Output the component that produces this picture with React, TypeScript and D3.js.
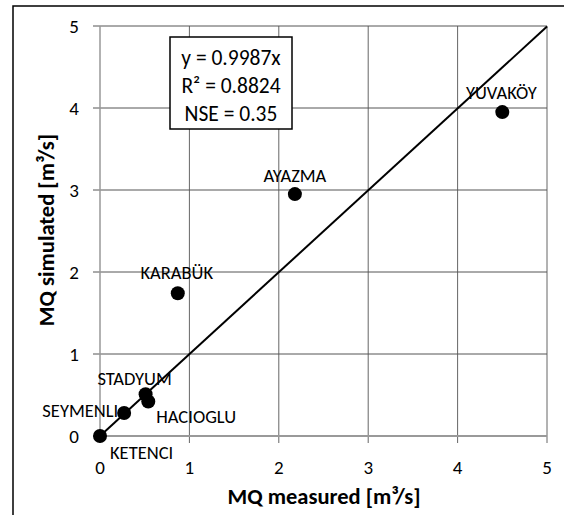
import React from 'react';
import * as d3 from 'd3';

const stations = ['KETENCI', 'SEYMENLI', 'STADYUM', 'HACIOGLU', 'KARABÜK', 'AYAZMA', 'YUVAKÖY'];
const measured = [0, 0.27, 0.51, 0.54, 0.87, 2.18, 4.5];
const simulated = [0, 0.28, 0.51, 0.42, 1.74, 2.95, 3.95];
const ticks = [0, 1, 2, 3, 4, 5];
const slope = 0.9987;
const statLines = ['y = 0.9987x', 'R² = 0.8824', 'NSE = 0.35'];

// label placement relative to each point: [dx, dy, anchor]
const labelPos: [number, number, string][] = [
  [10, 17, 'start'],
  [-6, -3, 'end'],
  [-11, -16, 'middle'],
  [8, 15, 'start'],
  [-1, -21, 'middle'],
  [0, -19, 'middle'],
  [-1, -20, 'middle'],
];

const W = 564;
const H = 515;
const font = "Carlito, Calibri, 'Liberation Sans', sans-serif";

const App = () => {
  const x = d3.scaleLinear().domain([0, 5]).range([100, 547]);
  const y = d3.scaleLinear().domain([0, 5]).range([436, 26]);
  const line = d3.line<number>().x(d => x(d)).y(d => y(d * slope));

  return (
    <svg width={W} height={H} style={{ position: 'absolute', left: 0, top: 0, background: '#fff' }}>
      <rect x={13} y={6} width={W} height={H} fill="none" stroke="#000" strokeWidth={1.5} />

      {ticks.slice(1).map(t => (
        <line key={'gx' + t} x1={x(t)} x2={x(t)} y1={y(5)} y2={y(0) + 7} stroke="#666" strokeWidth={1} />
      ))}
      {ticks.slice(1).map(t => (
        <line key={'gy' + t} x1={x(0) - 7} x2={x(5)} y1={y(t)} y2={y(t)} stroke="#555" strokeWidth={1} />
      ))}
      <line x1={x(0)} x2={x(0)} y1={y(5)} y2={y(0) + 7} stroke="#999" strokeWidth={1.5} />
      <line x1={x(0) - 7} x2={x(5)} y1={y(0)} y2={y(0)} stroke="#999" strokeWidth={2} />

      {ticks.map(t => (
        <text key={'ty' + t} x={79} y={y(t)} dy="0.35em" textAnchor="end" fontFamily={font} fontSize={19}>{t}</text>
      ))}
      {ticks.map(t => (
        <text key={'tx' + t} x={x(t)} y={474} textAnchor="middle" fontFamily={font} fontSize={19}>{t}</text>
      ))}

      <path d={line([0, 5]) || ''} stroke="#000" strokeWidth={2} fill="none" />

      {measured.map((m, i) => (
        <circle key={'p' + i} cx={x(m)} cy={y(simulated[i])} r={7} fill="#000" />
      ))}
      {stations.map((s, i) => (
        <text key={'l' + i} x={x(measured[i]) + labelPos[i][0]} y={y(simulated[i]) + labelPos[i][1]}
          dy="0.35em" textAnchor={labelPos[i][2]} fontFamily={font} fontSize={18.5}>{s}</text>
      ))}

      <rect x={170} y={37} width={122} height={92} fill="#fff" stroke="#000" strokeWidth={1.5} />
      {statLines.map((s, i) => (
        <text key={'s' + i} x={231} y={57 + i * 28} dy="0.35em" textAnchor="middle" fontFamily={font} fontSize={21.5}>{s}</text>
      ))}

      <text x={324} y={504} textAnchor="middle" fontFamily={font} fontSize={22.5} fontWeight="bold">MQ measured [m³/s]</text>
      <text transform="translate(54,230) rotate(-90)" textAnchor="middle" fontFamily={font} fontSize={22.5} fontWeight="bold">MQ simulated [m³/s]</text>
    </svg>
  );
};

export default App;
